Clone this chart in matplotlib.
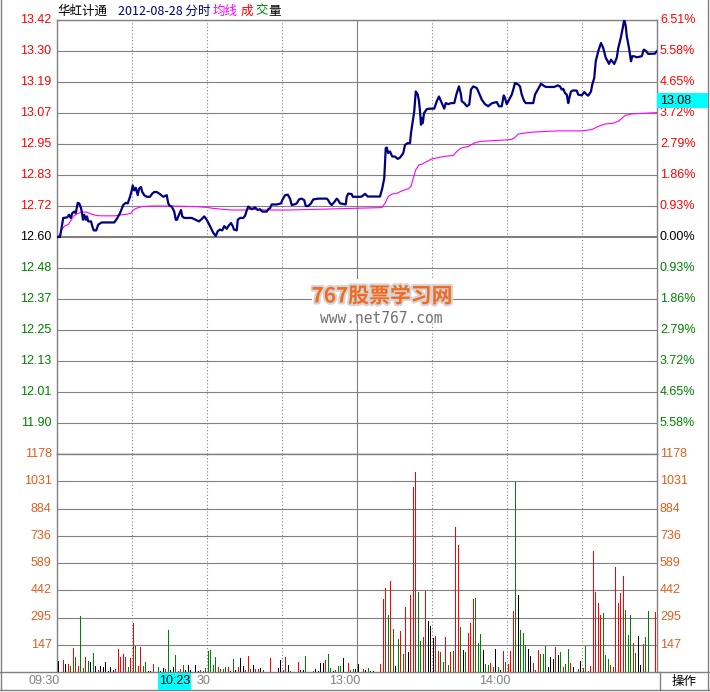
import matplotlib
matplotlib.use('Agg')
import matplotlib.pyplot as plt
import matplotlib.patheffects as pe
from matplotlib.patches import Rectangle
from matplotlib.lines import Line2D
import numpy as np

plt.rcParams['font.family'] = ['Liberation Sans', 'Noto Sans CJK SC', 'DejaVu Sans']

# minute index from 09:30 (0..240, 11:30/13:00 share 120), price
price_t = [0, 1.2, 2.5, 4.1, 4.8, 5.5, 6.1, 6.9, 7.5, 8.0, 8.3, 8.9, 9.6, 9.9, 10.4, 10.9,
           11.5, 12.0, 12.5, 13.6, 14.1, 14.7, 15.7, 16.5, 17.9, 22.9, 23.9, 25.2, 26.5,
           27.5, 28.3, 29.2, 29.9, 30.3, 30.9, 31.5, 32.3, 32.8, 33.6, 34.1, 34.9, 35.9,
           37.2, 38.1, 38.9, 39.9, 41.2, 42.5, 43.9, 44.5, 45.2, 45.9, 46.9, 47.5, 48.0,
           48.5, 49.6, 50.1, 50.9, 53.9, 55.9, 56.8, 57.9, 58.9, 59.9, 61.2, 62.5, 63.5,
           64.3, 65.2, 66.1, 66.9, 67.9, 68.5, 69.6, 70.3, 70.8, 71.9, 72.3, 73.2, 74.5,
           75.2, 75.9, 76.5, 77.9, 79.2, 80.3, 81.2, 82.1, 83.9, 84.5, 85.2, 85.9, 87.9,
           89.6, 90.1, 91.2, 92.3, 93.2, 93.9, 94.9, 95.9, 96.8, 97.9, 98.9, 99.5, 100.5,
           101.6, 102.5, 104.5, 107.9, 108.5, 109.2, 109.9, 111.0, 111.9, 112.5, 113.2,
           114.5, 115.5, 115.9, 116.5, 117.9, 118.3, 121.2,
           121.9, 123.2, 124.3, 129.2, 130.1, 130.9, 131.5, 131.9, 132.5, 133.2, 134.1,
           135.2, 136.3, 137.2, 138.5, 139.2, 140.3, 141.2, 141.6, 142.1, 142.9, 143.5,
           144.3, 144.8, 145.2, 145.6, 145.9, 146.3, 146.8, 147.9, 149.2, 150.9, 151.9,
           152.8, 153.6, 154.1, 154.9, 155.5, 156.5, 157.6, 158.9, 159.9, 160.8, 161.6,
           161.9, 162.9, 163.9, 164.9, 165.6, 166.5, 167.9, 168.8, 169.9, 171.2, 172.5,
           173.2, 174.1, 175.9, 176.8, 177.9, 178.7, 179.2, 179.9, 180.5, 181.9, 182.5,
           183.2, 184.5, 185.2, 185.9, 186.8, 187.5, 190.5, 191.2, 192.3, 193.6, 194.5,
           195.5, 198.9, 200.3, 201.2, 201.9, 202.5, 203.2, 203.9, 204.5, 204.9, 205.6,
           206.5, 207.9, 208.5, 209.9, 210.9, 211.9, 212.5, 213.6, 214.1, 214.9, 215.5,
           216.5, 217.6, 218.5, 219.5, 220.3, 220.8, 221.6, 222.1, 222.9, 223.9, 224.5,
           225.5, 226.3, 226.9, 227.5, 227.9, 228.8, 229.6, 230.1, 230.9, 231.9, 233.9,
           234.7, 235.5, 236.5, 239.2, 239.9]
price_v = [12.600, 12.600, 12.672, 12.674, 12.684, 12.672, 12.690, 12.696, 12.690, 12.715,
           12.729, 12.727, 12.709, 12.696, 12.665, 12.684, 12.665, 12.678, 12.659, 12.659,
           12.641, 12.625, 12.625, 12.647, 12.655, 12.655, 12.668, 12.690, 12.721, 12.729,
           12.727, 12.752, 12.776, 12.795, 12.776, 12.786, 12.758, 12.782, 12.789, 12.770,
           12.758, 12.752, 12.752, 12.764, 12.770, 12.770, 12.762, 12.752, 12.758, 12.727,
           12.717, 12.715, 12.696, 12.665, 12.665, 12.678, 12.702, 12.678, 12.672, 12.672,
           12.663, 12.659, 12.668, 12.678, 12.665, 12.641, 12.616, 12.604, 12.622, 12.628,
           12.625, 12.641, 12.631, 12.641, 12.653, 12.641, 12.628, 12.625, 12.665, 12.672,
           12.672, 12.680, 12.700, 12.715, 12.705, 12.712, 12.702, 12.705, 12.696, 12.696,
           12.705, 12.709, 12.723, 12.723, 12.727, 12.739, 12.758, 12.760, 12.745, 12.721,
           12.723, 12.727, 12.742, 12.745, 12.739, 12.717, 12.717, 12.727, 12.742, 12.745,
           12.745, 12.739, 12.727, 12.721, 12.733, 12.745, 12.739, 12.727, 12.725, 12.723,
           12.752, 12.764, 12.762, 12.752, 12.752,
           12.753, 12.763, 12.753, 12.753, 12.784, 12.822, 12.936, 12.938, 12.917, 12.923,
           12.904, 12.904, 12.895, 12.900, 12.917, 12.948, 12.955, 12.955, 12.993, 13.024,
           13.075, 13.150, 13.138, 13.113, 13.075, 13.024, 13.049, 13.030, 13.068, 13.083,
           13.085, 13.085, 13.113, 13.131, 13.113, 13.102, 13.085, 13.106, 13.102, 13.106,
           13.106, 13.144, 13.169, 13.138, 13.113, 13.106, 13.094, 13.100, 13.157, 13.169,
           13.163, 13.144, 13.119, 13.102, 13.094, 13.100, 13.106, 13.110, 13.094, 13.094,
           13.135, 13.125, 13.102, 13.113, 13.138, 13.157, 13.182, 13.176, 13.169, 13.138,
           13.115, 13.106, 13.106, 13.138, 13.157, 13.179, 13.173, 13.167, 13.167, 13.173,
           13.169, 13.157, 13.160, 13.144, 13.138, 13.106, 13.125, 13.150, 13.154, 13.153,
           13.138, 13.135, 13.148, 13.138, 13.134, 13.150, 13.176, 13.201, 13.264, 13.302,
           13.333, 13.314, 13.277, 13.264, 13.254, 13.270, 13.264, 13.254, 13.277, 13.314,
           13.352, 13.390, 13.422, 13.397, 13.359, 13.314, 13.264, 13.283, 13.283, 13.279,
           13.283, 13.308, 13.304, 13.292, 13.293, 13.302]

avg_t = [0, 1.2, 1.9, 3.0, 4.5, 5.9, 6.5, 7.5, 8.5, 9.9, 11.9, 13.9, 15.9, 17.9, 23.2, 25.9,
         27.9, 29.6, 30.5, 31.9, 33.9, 37.9, 44.5, 55.2, 59.9, 61.9, 65.9, 69.9, 75.2, 76.5,
         84.5, 92.5, 105.9, 121.2, 129.9, 131.2, 132.5, 133.9, 135.9, 137.9, 140.5, 141.6,
         142.5, 143.5, 144.8, 145.9, 147.9, 149.9, 152.5, 155.2, 158.5, 159.9, 161.6, 164.5,
         166.9, 169.2, 173.9, 178.5, 181.9, 183.2, 184.5, 187.2, 189.9, 195.2, 200.5, 209.9,
         213.9, 216.5, 219.2, 222.5, 224.5, 227.2, 229.9, 233.9, 239.9]
avg_v = [12.600, 12.610, 12.628, 12.641, 12.647, 12.668, 12.678, 12.684, 12.690, 12.694,
         12.694, 12.686, 12.681, 12.680, 12.680, 12.684, 12.686, 12.690, 12.702, 12.709,
         12.715, 12.717, 12.717, 12.715, 12.712, 12.709, 12.705, 12.702, 12.702, 12.705,
         12.702, 12.702, 12.705, 12.709, 12.711, 12.727, 12.753, 12.762, 12.765, 12.774,
         12.782, 12.791, 12.822, 12.854, 12.873, 12.875, 12.885, 12.895, 12.900, 12.905,
         12.908, 12.923, 12.936, 12.942, 12.955, 12.961, 12.964, 12.966, 12.969, 12.976,
         12.989, 12.993, 12.996, 12.999, 13.001, 13.001, 13.006, 13.018, 13.027, 13.030,
         13.037, 13.059, 13.065, 13.067, 13.070]

# volume per minute and its colour (r up, g down, k flat)
vol = [61, 0, 65, 44, 44, 33, 130, 82, 33, 301,
       23, 80, 60, 54, 101, 33, 12, 33, 25, 54,
       7, 28, 12, 18, 122, 80, 96, 80, 28, 73,
       264, 138, 33, 133, 33, 54, 7, 7, 44, 0,
       28, 7, 23, 18, 227, 12, 28, 91, 7, 18,
       38, 12, 38, 12, 0, 38, 7, 12, 7, 23,
       112, 117, 38, 80, 28, 18, 18, 28, 28, 7,
       70, 12, 28, 75, 33, 12, 86, 18, 38, 18,
       18, 23, 12, 0, 0, 75, 0, 0, 23, 65,
       12, 80, 38, 7, 0, 0, 54, 12, 12, 86,
       0, 0, 7, 18, 7, 49, 49, 65, 96, 23,
       7, 12, 33, 33, 75, 0, 49, 12, 18, 18,
       44, 0, 16, 11, 20, 5, 5, 0, 0, 43,
       396, 456, 308, 494, 233, 33, 179, 223, 98, 353,
       109, 418, 999, 1081, 434, 168, 190, 440, 277, 250,
       185, 195, 114, 109, 54, 190, 38, 109, 114, 782,
       684, 244, 119, 109, 212, 266, 396, 402, 157, 206,
       119, 43, 38, 49, 27, 125, 27, 11, 114, 54,
       43, 114, 331, 1026, 418, 228, 212, 147, 125, 87,
       49, 11, 119, 98, 98, 141, 27, 81, 71, 136,
       92, 109, 27, 43, 125, 49, 27, 0, 16, 60,
       22, 141, 5, 33, 652, 434, 375, 310, 320, 92,
       71, 38, 27, 565, 375, 429, 521, 337, 201, 310,
       157, 103, 195, 38, 152, 190, 331, 0, 0, 326,
       0]
vol_color = ("kkrkrgrgrg" "grgkgkrkkk" "kkkrrrrrgr" "rgrrggkkrk" "gkkrgkkgrr"
             "gkkkkkkrrg" "ggggrgggrk" "gkrkkrrgkr" "rkgkkrkkkk" "rrkgkkrkkg"
             "kkrkkkkrgg" "krggkkrggk" "kkrkgkkkkr" "rrgrgkgrgr" "krrrggrrkk"
             "krrggrgrgr" "rgkgrrrggg" "kggrrkgkrg" "rrrgkgggkk" "rrrgggkkkr"
             "kgrggrkkgk" "rggrrrrrgg" "grgrrrrggg" "rgkkrggkkr" "k")

# '10:30' is mostly hidden by the cursor box, only '30' shows
time_labels = ['09:30', '30', '13:00', '14:00']
time_pos = [0, 60, 120, 180]
vol_labels = ['147', '295', '442', '589', '736', '884', '1031', '1178']

base = 12.60
step = 0.82 / 7
vol_top = 1178

W, H = 710, 692
GRAY = '#808080'
RED, GREEN = '#FF0000', '#008000'
ORANGE = '#DF5F1F'

fig = plt.figure(figsize=(W / 100, H / 100), dpi=100)


def fx(px):
    return px / W


def fy(py):
    return 1 - py / H


ax = fig.add_axes([fx(57), fy(454), 600 / W, 434 / H])
axv = fig.add_axes([fx(57), fy(672), 600 / W, 218 / H])

for a in (ax, axv):
    a.set_xlim(0, 240)
    a.set_xticks([])
    a.set_yticks([])
    for s in a.spines.values():
        s.set_color(GRAY)
        s.set_linewidth(1.0)
    for m in (30, 60, 90, 150, 180, 210):
        a.axvline(m, color=GRAY, lw=0.8, ls=(0, (1, 2)), zorder=1)
    a.axvline(120, color=GRAY, lw=0.8, zorder=1)

# price panel
ax.set_ylim(base - 7 * step, base + 7 * step)
for k in range(-6, 8):
    lvl = base + k * step
    ax.axhline(lvl, color=GRAY, lw=1.5 if k == 0 else 0.8, zorder=1)
    col = RED if k > 0 else ('black' if k == 0 else GREEN)
    ax.text(-0.009, lvl, f'{lvl:.2f}', transform=ax.get_yaxis_transform(),
            ha='right', va='center', color=col, fontsize=9)
    ax.text(1.005, lvl, f'{abs(k) * 0.93:.2f}%', transform=ax.get_yaxis_transform(),
            ha='left', va='center', color=col, fontsize=9)

ax.plot(avg_t, avg_v, color='#FF00FF', lw=0.8, zorder=3)
ax.plot(price_t, price_v, color='#000080', lw=1.6, zorder=4)

# volume panel
axv.set_ylim(0, vol_top)
for k, lab in enumerate(vol_labels, start=1):
    lvl = vol_top * k / 8
    if k < 8:
        axv.axhline(lvl, color=GRAY, lw=0.8, zorder=1)
    axv.text(-0.009, lvl, lab, transform=axv.get_yaxis_transform(),
             ha='right', va='center', color=ORANGE, fontsize=9)
    axv.text(1.005, lvl, lab, transform=axv.get_yaxis_transform(),
             ha='left', va='center', color=ORANGE, fontsize=9)
cmap = {'r': RED, 'g': GREEN, 'k': 'black'}
axv.bar(np.arange(len(vol)) + 0.5, vol, width=0.42, lw=0, antialiased=False,
        color=[cmap[c] for c in vol_color], zorder=3)

# header
cjk = ['Noto Sans CJK SC', 'DejaVu Sans']
hy = fy(11)
fig.text(fx(57), hy, '华虹计通', family=cjk, fontsize=9, va='center', color='black')
fig.text(fx(118), hy, '2012-08-28 分时', family=cjk, fontsize=9, va='center', color='#000080')
fig.text(fx(213), hy, '均线', family=cjk, fontsize=9, va='center', color='#FF00FF')
fig.text(fx(241), hy, '成', family=cjk, fontsize=9, va='center', color=RED)
fig.text(fx(255), hy, '交', family=cjk, fontsize=9, va='center', color=GREEN)
fig.text(fx(268), hy, '量', family=cjk, fontsize=9, va='center', color='black')

# watermark
fig.patches.append(Rectangle((fx(312), fy(322)), 138 / W, 43 / H, transform=fig.transFigure,
                             facecolor='white', edgecolor='none', zorder=2))
fig.text(fx(382), fy(296), '767股票学习网', family=cjk, fontsize=15, fontweight='bold',
         color='#F26A22', ha='center', va='center', zorder=3,
         path_effects=[pe.withStroke(linewidth=3, foreground='#D5D5D5')])
fig.text(fx(381), fy(318), 'www.net767.com', family='DejaVu Sans Mono', fontsize=10.5,
         color='#707070', ha='center', va='center', zorder=3)

# bottom time axis
ty = fy(681)
for p, lab in zip(time_pos, time_labels):
    xpx = 57 + p * 2.5 + 3
    fig.text(fx(xpx), ty, lab, ha='right', va='center', color=GRAY, fontsize=9)
fig.patches.append(Rectangle((fx(158), fy(690)), 33 / W, 17 / H, transform=fig.transFigure,
                             facecolor='#00FFFF', edgecolor='none', zorder=2))
fig.text(fx(174.5), ty, '10:23', ha='center', va='center', color='black', fontsize=9, zorder=3)
fig.text(fx(684), ty, '操作', family=cjk, ha='center', va='center', color='black', fontsize=9)

# current price box
fig.patches.append(Rectangle((fx(657), fy(108)), 51 / W, 15 / H, transform=fig.transFigure,
                             facecolor='#00FFFF', edgecolor='none', zorder=2))
fig.text(fx(660), fy(100.5), '13.08', ha='left', va='center', color='black', fontsize=9, zorder=3)

# outer frame
for xs, ys in [((1, 1), (0, 690)), ((708, 708), (0, 690)), ((0, 710), (690, 690)),
               ((660, 660), (672, 690)), ((0, 57), (672, 672)), ((657, 710), (672, 672))]:
    fig.lines.append(Line2D([fx(x) for x in xs], [fy(y) for y in ys], transform=fig.transFigure,
                            color=GRAY, lw=1.0))

fig.savefig('out.png', dpi=100, facecolor='white')
